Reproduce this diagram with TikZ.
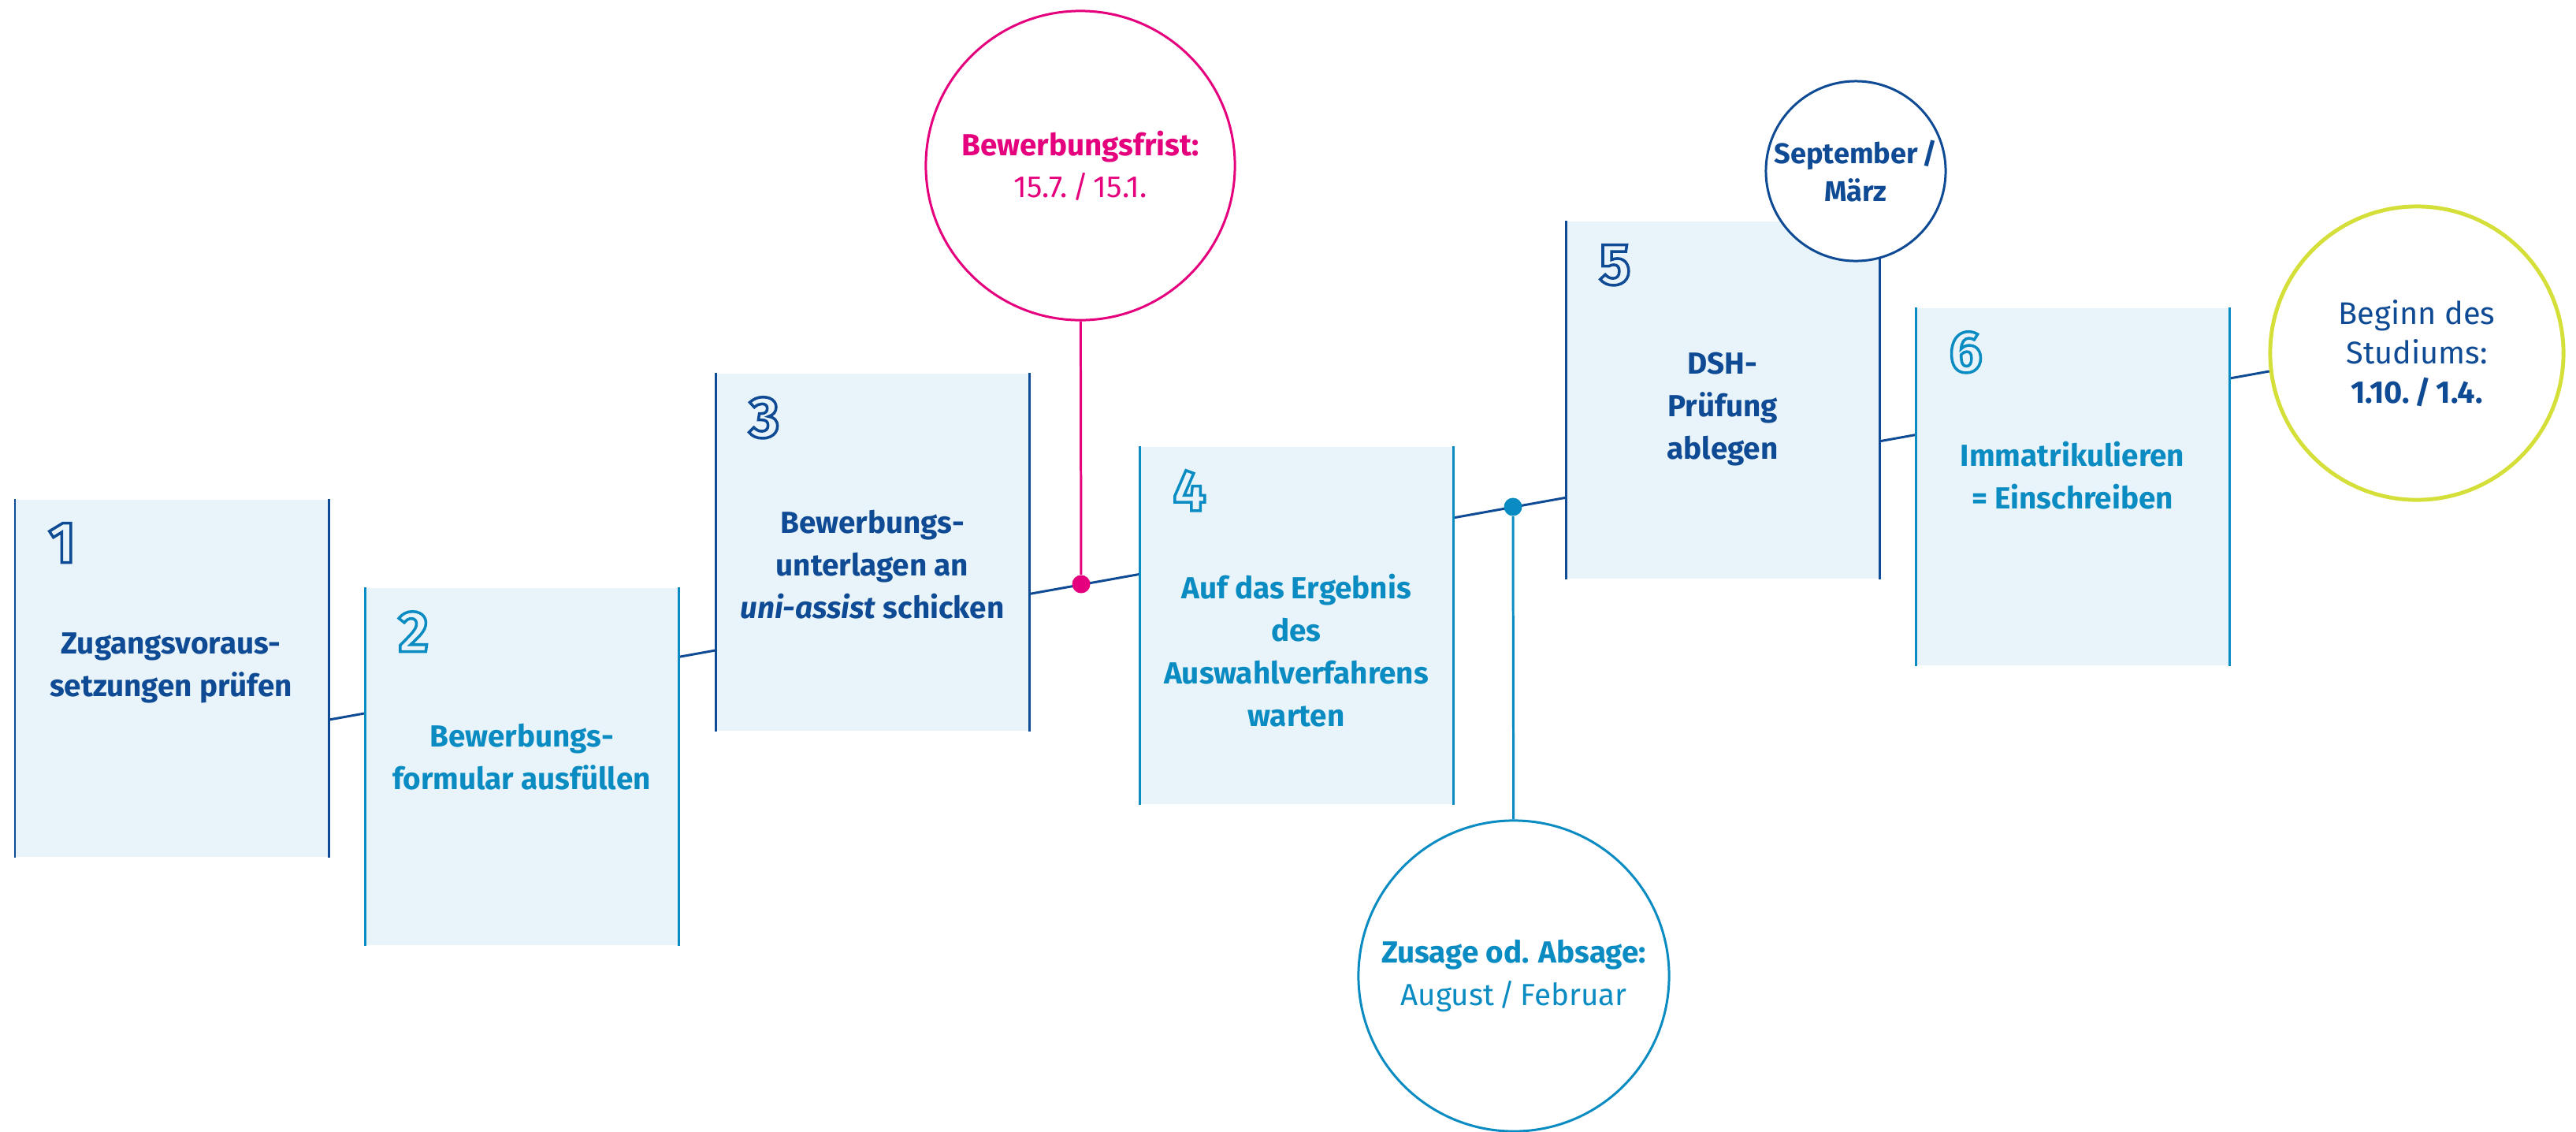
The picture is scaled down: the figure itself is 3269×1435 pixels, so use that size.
\documentclass[tikz,border=0pt]{standalone}
\usepackage{fontspec}
\setmainfont{Fira Sans}
\usetikzlibrary{calc,backgrounds}
\definecolor{stepblue}{HTML}{0F4A94}
\definecolor{stepteal}{HTML}{0A8BC2}
\definecolor{boxfill}{HTML}{E8F4FA}
\definecolor{fristpink}{HTML}{E5007D}
\definecolor{startgreen}{HTML}{D5DF3A}
\newcommand{\stepnum}[1]{\special{pdf:literal direct 1 Tr 1 w}#1\special{pdf:literal direct 0 Tr}}

\begin{document}
\begin{tikzpicture}[x=0.01cm,y=-0.01cm,
  stepbox/.style={rectangle,fill=boxfill,inner sep=0pt,minimum width=3.97cm,minimum height=4.53cm,anchor=north west},
  steptext/.style={align=center,inner sep=0pt,text=#1,font=\bfseries\fontsize{11}{15.3}\selectfont},
  stepno/.style={anchor=north west,inner sep=0pt,text=#1,font=\bfseries\fontsize{21}{21}\selectfont},
  datecircle/.style={circle,draw=#1,fill=white,line width=0.85pt,align=center,text=#1,inner sep=0pt},
  dot/.style={circle,fill=#1,inner sep=0pt,minimum size=0.23cm}]
\useasboundingbox (0,0) rectangle (3269,1435);
% steps
\node[stepbox] (b1) at (19,633) {};
\node[stepbox] (b2) at (463,745) {};
\node[stepbox] (b3) at (908,473) {};
\node[stepbox] (b4) at (1446,566) {};
\node[stepbox] (b5) at (1987,280) {};
\node[stepbox] (b6) at (2431,390) {};
\foreach \b/\c in {b1/stepblue,b2/stepteal,b3/stepblue,b4/stepteal,b5/stepblue,b6/stepteal}
  \draw[\c,line width=0.85pt] (\b.north west) -- (\b.south west) (\b.north east) -- (\b.south east);
\node[stepno=stepblue] (n1) at ($(b1.north west)+(42,30)$) {\stepnum{1}};
\node[stepno=stepteal] (n2) at ($(b2.north west)+(42,30)$) {\stepnum{2}};
\node[stepno=stepblue] (n3) at ($(b3.north west)+(42,30)$) {\stepnum{3}};
\node[stepno=stepteal] (n4) at ($(b4.north west)+(42,30)$) {\stepnum{4}};
\node[stepno=stepblue] (n5) at ($(b5.north west)+(42,30)$) {\stepnum{5}};
\node[stepno=stepteal] (n6) at ($(b6.north west)+(42,30)$) {\stepnum{6}};
\node[steptext=stepblue] (t1) at (217,847) {Zugangsvoraus-\\setzungen prüfen};
\node[steptext=stepteal] (t2) at (662,960) {Bewerbungs-\\formular ausfüllen};
\node[steptext=stepblue] (t3) at (1107,716) {Bewerbungs-\\unterlagen an\\\textit{uni-assist} schicken};
\node[steptext=stepteal] (t4) at (1645,825) {Auf das Ergebnis\\des\\Auswahlverfahrens\\warten};
\node[steptext=stepblue] (t5) at (2186,519) {DSH-\\Prüfung\\ablegen};
\node[steptext=stepteal] (t6) at (2630,603) {Immatrikulieren\\= Einschreiben};
% dates
\node[datecircle=fristpink,minimum size=3.92cm,font=\fontsize{11}{15}\selectfont] (frist) at (1371,210) {\textbf{Bewerbungsfrist:}\\15.7.\,/\,15.1.};
\node[datecircle=stepteal,minimum size=3.94cm,font=\fontsize{11}{15.3}\selectfont] (zusage) at (1921,1238) {\textbf{Zusage od. Absage:}\\August\,/\,Februar};
\node[datecircle=stepblue,minimum size=2.28cm,font=\bfseries\fontsize{10.3}{13.7}\selectfont] (dsh) at (2355,217) {September\,/\\März};
\node[datecircle=stepblue,draw=startgreen,line width=1.4pt,minimum size=3.72cm,font=\fontsize{11.3}{14.2}\selectfont] (beginn) at (3067,448) {Beginn des\\Studiums:\\\textbf{1.10.\,/\,1.4.}};
\coordinate (lstart) at ($(b1.north east)+(0,280)$);
\begin{scope}[on background layer]
\draw[stepblue,line width=0.85pt] (lstart) -- (beginn.187);
\end{scope}
\node[dot=fristpink] (pdot) at (1372,741) {};
\node[dot=stepteal] (zdot) at (1920,643) {};
\draw[fristpink,line width=0.85pt] (frist) -- (pdot);
\draw[stepteal,line width=0.85pt] (zdot) -- (zusage);
\end{tikzpicture}
\end{document}
